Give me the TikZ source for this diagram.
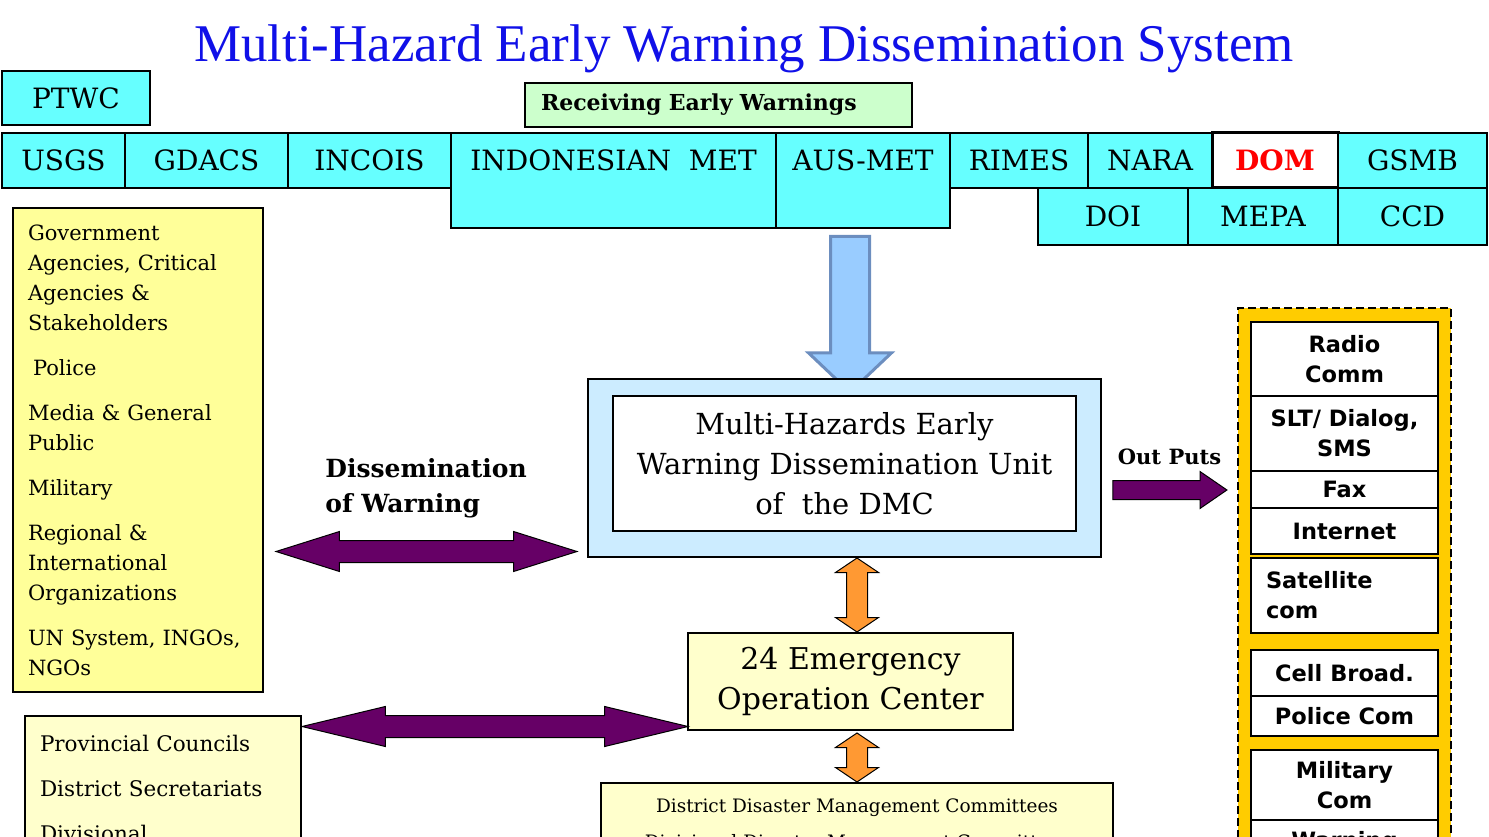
\documentclass[tikz,border=0pt]{standalone}
\usepackage{fontspec}
\setmainfont{DejaVu Serif}
\newfontfamily\titlefont{Liberation Serif}
\newfontfamily\panelfont{DejaVu Sans}
\usepackage{tikz}
\usetikzlibrary{shapes.arrows, positioning}
\definecolor{orgcyan}{HTML}{66FFFF}
\definecolor{recvgreen}{HTML}{CCFFCC}
\definecolor{usersyellow}{HTML}{FFFF99}
\definecolor{paleyellow}{HTML}{FFFFCC}
\definecolor{unitblue}{HTML}{CCECFF}
\definecolor{feedblue}{HTML}{99CCFF}
\definecolor{feededge}{HTML}{6C8EBF}
\definecolor{linkpurple}{HTML}{660066}
\definecolor{linkorange}{HTML}{FF9933}
\definecolor{panelgold}{HTML}{FFCC00}
\definecolor{titleblue}{HTML}{1010E8}

\begin{document}
\begin{tikzpicture}[x=1pt, y=-1pt, every node/.style={outer sep=0pt},
  org/.style={rectangle, draw=black, line width=2pt, fill=orgcyan,
              font=\fontsize{28}{34}\selectfont, inner sep=0pt,
              minimum height=55, text height=21, text depth=0},
  userbox/.style={rectangle, draw=black, line width=2pt, align=left,
                  inner xsep=15, inner ysep=0},
  midbox/.style={rectangle, draw=black, line width=2pt, fill=paleyellow,
                 align=center},
  chan/.style={rectangle, draw=black, line width=2.5pt, fill=white,
               minimum width=187, align=center,
               font=\panelfont\bfseries\fontsize{22.5}{30}\selectfont},
  bigarrow/.style={double arrow, draw=black, line width=1pt, fill=linkpurple,
                   inner sep=0pt, inner ysep=10.5, minimum width=39,
                   double arrow head extend=9},
  updown/.style={double arrow, draw=black, line width=1pt, fill=linkorange,
                 inner sep=0pt, inner ysep=10, minimum width=42,
                 double arrow head extend=11, double arrow tip angle=112,
                 rotate=90},
]
\useasboundingbox (0,0) rectangle (1489,837);
\clip (0,0) rectangle (1489,837);

\node[text=titleblue, font=\titlefont\fontsize{53}{60}\selectfont] (title) at (744,49)
  {Multi-Hazard Early Warning Dissemination System};

\node[org, minimum width=148, minimum height=54, anchor=north west] (ptwc) at (2,71) {PTWC};
\node[rectangle, draw=black, line width=2pt, fill=recvgreen, minimum height=44,
      text width=355, inner xsep=16, align=left,
      font=\bfseries\fontsize{22}{26}\selectfont, anchor=north west] (recv) at (525,83)
  {Receiving Early Warnings};

\node[org, minimum width=123, anchor=north west] (usgs) at (2,133) {USGS};
\node[org, minimum width=163, anchor=north west] (gdacs) at (usgs.north east) {GDACS};
\node[org, minimum width=163, anchor=north west] (incois) at (gdacs.north east) {INCOIS};
\node[org, minimum width=325, minimum height=95, text depth=40, anchor=north west] (indomet) at (incois.north east) {INDONESIAN~~MET};
\node[org, minimum width=174, minimum height=95, text depth=40, anchor=north west] (ausmet) at (indomet.north east) {AUS-MET};
\node[org, minimum width=138, anchor=north west] (rimes) at (ausmet.north east) {RIMES};
\node[org, minimum width=124, anchor=north west] (nara) at (rimes.north east) {NARA};
\node[org, minimum width=126, fill=white, line width=3pt, text=red,
      font=\bfseries\fontsize{28}{34}\selectfont, anchor=north west] (dom) at (nara.north east) {DOM};
\node[org, minimum width=149, anchor=north west] (gsmb) at (dom.north east) {GSMB};
\node[org, minimum width=150, minimum height=57, anchor=north west] (doi) at (1038,188) {DOI};
\node[org, minimum width=150, minimum height=57, anchor=north west] (mepa) at (doi.north east) {MEPA};
\node[org, minimum width=149, minimum height=57, anchor=north west] (ccd) at (mepa.north east) {CCD};

\node[userbox, fill=usersyellow, text width=220, minimum height=484,
      font=\fontsize{21}{30}\selectfont, anchor=north west] (users) at (13,208)
  {Government\\Agencies, Critical\\Agencies \&\\Stakeholders\\[15pt]
   \hspace{5pt}Police\\[15pt]
   Media \& General\\Public\\[15pt]
   Military\\[15pt]
   Regional \&\\International\\Organizations\\[15pt]
   UN System, INGOs,\\NGOs};

\node[single arrow, draw=feededge, line width=3pt, fill=feedblue, inner sep=0pt,
      inner ysep=18, minimum width=80, minimum height=156,
      single arrow head extend=22, single arrow tip angle=93, rotate=-90] (feed) at (850,305) {};

\node[rectangle, draw=black, line width=2pt, fill=unitblue,
      minimum width=513, minimum height=178] (unitframe) at (844.5,468) {};
\node[rectangle, draw=black, line width=2pt, fill=white, align=center,
      minimum width=463, minimum height=135,
      font=\fontsize{29}{40}\selectfont] (unit) at (844.5,463.5)
  {Multi-Hazards Early\\Warning Dissemination Unit\\of~~the DMC};

\node[align=left, font=\bfseries\fontsize{25}{35}\selectfont, anchor=north west] (dislbl) at (322,455)
  {Dissemination\\of Warning};
\node[bigarrow, minimum height=301, double arrow tip angle=35] (dissem) at (426.5,551.5) {};

\node[font=\bfseries\fontsize{21}{24}\selectfont] (outlbl) at (1169.5,457) {Out Puts};
\node[single arrow, draw=black, line width=1pt, fill=linkpurple, inner sep=0pt,
      inner ysep=9, minimum width=36, minimum height=114,
      single arrow head extend=9, single arrow tip angle=69] (outarrow) at (1163,490) {};

\node[updown, minimum height=74] (unitlink) at (857,595) {};
\node[midbox, minimum width=325, minimum height=97,
      font=\fontsize{30}{40}\selectfont] (eoc) at (850.5,681.5)
  {24 Emergency\\Operation Center};
\node[bigarrow, minimum height=386, double arrow tip angle=27] (eoclink) at (495,726.5) {};
\node[updown, minimum height=49] (ddmclink) at (857,757.5) {};

\node[midbox, minimum width=512, minimum height=85, anchor=north west,
      font=\fontsize{18.5}{36}\selectfont] (ddmc) at (601,783)
  {District Disaster Management Committees\\Divisional Disaster Management Committees};
\node[userbox, fill=paleyellow, text width=246, minimum height=144,
      font=\fontsize{21.5}{45}\selectfont, anchor=north west] (local) at (25,716)
  {Provincial Councils\\District Secretariats\\Divisional};

\node[rectangle, draw=black, dash pattern=on 8pt off 4pt, line width=2.5pt, fill=panelgold,
      minimum width=213, minimum height=600, anchor=north west] (outputs) at (1238,308) {};
\node[chan, minimum height=74, anchor=north west] (radio) at (1251,322) {Radio\\Comm};
\node[chan, minimum height=75, anchor=north] (slt) at (radio.south) {SLT/ Dialog,\\SMS};
\node[chan, minimum height=37, anchor=north] (fax) at (slt.south) {Fax};
\node[chan, minimum height=46, anchor=north] (internet) at (fax.south) {Internet};
\node[chan, minimum height=75, text width=157, inner xsep=15, align=left,
      anchor=north west] (satcom) at (1251,558) {Satellite\\com};
\node[chan, minimum height=46, anchor=north west] (cell) at (1251,650) {Cell Broad.};
\node[chan, minimum height=40, anchor=north] (policecom) at (cell.south) {Police Com};
\node[chan, minimum height=70, anchor=north west] (milcom) at (1251,750) {Military\\Com};
\node[chan, minimum height=80, text depth=40, anchor=north] (warn) at (milcom.south) {Warning};
\end{tikzpicture}
\end{document}
